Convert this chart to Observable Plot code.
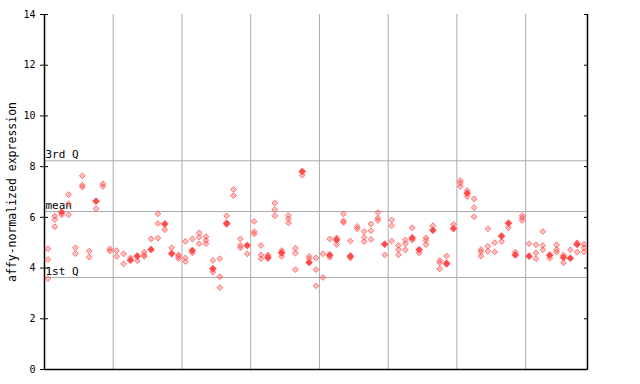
<!DOCTYPE html>
<html>
<head>
<meta charset="utf-8">
<script src="https://cdn.jsdelivr.net/npm/d3@7"></script>
<script src="https://cdn.jsdelivr.net/npm/@observablehq/plot@0.6"></script>
<style>
  html, body { margin: 0; padding: 0; background: #fff; }
</style>
</head>
<body>
<div id="chart"></div>
<script>
// Hollow-diamond values per sample column (1..79)
const hollowValues = [
  [4.76,4.34,3.58],[6.05,5.91,5.63],[6.10],[6.90,6.53,6.10],[4.80,4.57],
  [7.64,7.27,7.19],[4.67,4.43],[6.34],[7.32,7.22],[4.76,4.67],
  [4.69,4.46],[4.56,4.17],[4.40],[4.29],[4.63,4.52,4.46],
  [5.15],[6.14,5.76,5.18],[5.51],[4.80],[4.52,4.46,4.37],
  [5.05,4.40,4.26],[5.15,4.60],[5.39,5.22,4.96],[5.24,5.09,4.96],[4.30,3.84],
  [4.37,3.66,3.23],[6.06,5.72],[7.10,6.86],[5.15,4.89,4.80],[4.56],
  [5.84,5.44,5.35],[4.89,4.52,4.37],[4.52,4.37],[6.57,6.31,6.06],[4.69,4.46],
  [6.07,5.94,5.78],[4.78,4.59,3.94],[7.66],[4.46,4.37],[4.40,3.94,3.30],
  [4.56,3.63],[5.15,4.43],[5.19,4.93],[6.14,5.86,5.80],[5.07,4.40],
  [5.64,5.55],[5.44,5.21,5.04],[5.74,5.47,5.13],[6.19,5.97,5.88],[4.52],
  [5.90,5.67,5.07],[4.89,4.73,4.52],[5.11,4.96,4.72],[5.59,5.11],[4.60],
  [5.19,5.09,4.93],[5.67],[4.30,4.21,3.97],[4.48,4.14],[5.72],
  [7.45,7.35,7.22],[7.06,6.82],[6.73,6.38,6.02],[4.73,4.64,4.47],[5.55,4.86,4.67],
  [5.00,4.64],[5.05],[5.59],[4.63],[6.07,5.98,5.88],
  [4.96],[4.92,4.60,4.37],[5.44,4.89,4.72],[4.39],[4.92,4.73,4.63],
  [4.51,4.21],[4.72],[5.00,4.63],[4.94,4.80,4.64]
];
// Filled-diamond value per sample column (null = none)
const filledValues = [
  null,null,6.20,null,null, null,null,6.64,null,null,
  null,null,4.31,4.47,null, 4.73,null,5.74,4.57,null,
  null,4.69,null,null,3.97, null,5.77,null,null,4.89,
  null,null,4.43,null,4.60, null,null,7.81,4.22,null,
  null,4.52,5.11,null,4.47, null,null,null,null,4.94,
  null,null,null,5.19,4.72, null,5.49,null,4.19,5.56,
  null,6.95,null,null,null, null,5.26,5.77,4.52,null,
  4.47,null,null,4.51,null, 4.42,4.39,4.93,null
];
const groupBoundaries = [10.5, 20.5, 30.5, 40.5, 50.5, 60.5, 70.5];
const refValues = [8.23, 6.23, 3.63];
const refLabels = ["3rd Q", "mean", "1st Q"];
const yTicks = [0, 2, 4, 6, 8, 10, 12, 14];
const yLabel = "affy-normalized expression";

const hollowPts = hollowValues.flatMap((vals, i) => vals.map(v => ({sample: i + 1, value: v})));
const filledPts = filledValues.map((v, i) => ({sample: i + 1, value: v})).filter(d => d.value != null);
const refs = refValues.map((v, i) => ({value: v, label: refLabels[i]}));

const red = "#ff4a4a";
const grid = "#aaaaaa";

const chart = Plot.plot({
  width: 640,
  height: 384,
  marginLeft: 44,
  marginRight: 53,
  marginTop: 14,
  marginBottom: 15,
  style: {fontFamily: "'DejaVu Sans Mono', monospace", fontSize: "10px", background: "#fff", color: "#000"},
  x: {domain: [0.5, 79.5], axis: null},
  y: {domain: [0, 14], axis: null},
  marks: [
    Plot.ruleX(groupBoundaries, {stroke: grid, strokeWidth: 1, y1: 0, y2: 14}),
    Plot.ruleY(refs, {y: "value", stroke: grid, strokeWidth: 1, x1: 0.5, x2: 79.5}),
    Plot.text(refs, {x: 0.5, y: "value", text: "label", textAnchor: "start", dx: 1, dy: -6, fontSize: 11}),
    Plot.axisY(yTicks, {anchor: "left", tickSize: 4, tickPadding: 5, label: null, fontSize: 10}),
    Plot.axisY(yTicks, {anchor: "left", tickSize: -4, tickFormat: () => "", label: null}),
    Plot.axisY(yTicks, {anchor: "right", tickSize: -4, tickFormat: () => "", label: null}),
    Plot.ruleX([0.5, 79.5], {stroke: "#000", strokeWidth: 1.5, y1: 0, y2: 14}),
    Plot.ruleY([0], {stroke: "#000", strokeWidth: 1.5, x1: 0.5, x2: 79.5}),
    Plot.dot(hollowPts, {x: "sample", y: "value", symbol: "diamond2", r: 2.6, stroke: red, strokeWidth: 0.8, strokeOpacity: 0.9, fill: red, fillOpacity: 0.35}),
    Plot.dot(filledPts, {x: "sample", y: "value", symbol: "diamond2", r: 3.2, fill: red, stroke: red, strokeWidth: 0.5}),
    Plot.text([yLabel], {frameAnchor: "left", rotate: -90, dx: -32, fontSize: 11.5, textAnchor: "middle"})
  ]
});
document.getElementById("chart").appendChild(chart);
</script>
</body>
</html>
